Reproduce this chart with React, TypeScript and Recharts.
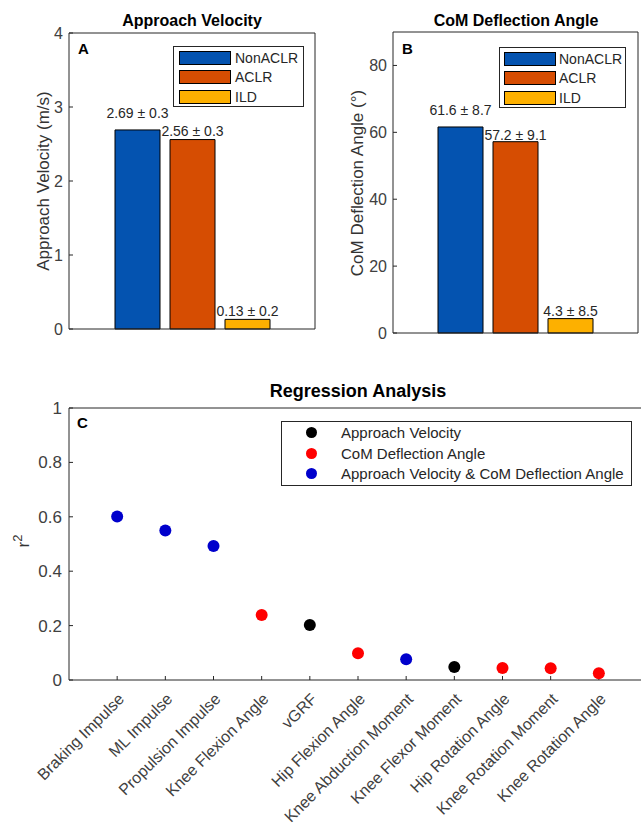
import React from "react";
import { BarChart, Bar, XAxis, YAxis, Legend, LabelList, ScatterChart, Scatter } from "recharts";

// groups shared by panels A and B
const GROUPS = ["NonACLR", "ACLR", "ILD"];
const GROUP_COLORS = ["#0453b0", "#d64d02", "#fdb000"];

// panel A: approach velocity (m/s)
const VELOCITY_MEAN = [2.69, 2.56, 0.13];
const VELOCITY_SD = [0.3, 0.3, 0.2];
const VELOCITY_TICKS = [0, 1, 2, 3, 4];

// panel B: CoM deflection angle (deg)
const ANGLE_MEAN = [61.6, 57.2, 4.3];
const ANGLE_SD = [8.7, 9.1, 8.5];
const ANGLE_TICKS = [0, 20, 40, 60, 80];

// panel C: regression r^2 per measure
const MEASURES = [
  "Braking Impulse",
  "ML Impulse",
  "Propulsion Impulse",
  "Knee Flexion Angle",
  "vGRF",
  "Hip Flexion Angle",
  "Knee Abduction Moment",
  "Knee Flexor Moment",
  "Hip Rotation Angle",
  "Knee Rotation Moment",
  "Knee Rotation Angle",
];
const R2 = [0.601, 0.55, 0.493, 0.239, 0.202, 0.098, 0.076, 0.048, 0.044, 0.043, 0.025];
const PREDICTOR = ["both", "both", "both", "com", "vel", "com", "both", "vel", "com", "com", "com"];
const PREDICTOR_KEYS = ["vel", "com", "both"];
const PREDICTOR_NAMES = ["Approach Velocity", "CoM Deflection Angle", "Approach Velocity & CoM Deflection Angle"];
const PREDICTOR_COLORS = ["#000000", "#ff0000", "#0000cc"];
const R2_TICKS = [0, 0.2, 0.4, 0.6, 0.8, 1];

const AXIS = { stroke: "#262626", strokeWidth: 1 };
const TICK = { fill: "#404040", fontSize: 16 };
const TEXT = "#262626";

function barRow(means: number[], sds: number[]) {
  const row: any = { name: "" };
  GROUPS.forEach((g, i) => {
    row[g] = means[i];
    row[g + "_label"] = `${means[i]} \u00b1 ${sds[i]}`;
  });
  return [row];
}

const velocityData = barRow(VELOCITY_MEAN, VELOCITY_SD);
const angleData = barRow(ANGLE_MEAN, ANGLE_SD);

const scatterData = PREDICTOR_KEYS.map((k) =>
  MEASURES.map((m, i) => ({ x: i + 1, y: R2[i], measure: m, key: PREDICTOR[i] })).filter((d) => d.key === k)
);
const X_TICKS = MEASURES.map((_, i) => i + 1);

// keep legend entries in series order
const ordered = (payload: any[], names: string[]) =>
  [...(payload || [])].sort((a, b) => names.indexOf(a.value) - names.indexOf(b.value));

const makeBarLegend = (width: number, padLeft: number, gap: number) => (props: any) => (
  <div
    style={{
      border: "1px solid #262626",
      background: "#fff",
      width,
      height: 61,
      boxSizing: "border-box",
      paddingLeft: padLeft,
      paddingTop: 1,
    }}
  >
    {ordered(props.payload, GROUPS).map((p: any) => (
      <div key={p.value} style={{ display: "flex", alignItems: "center", height: 19.5 }}>
        <span
          style={{
            width: 52,
            height: 14,
            boxSizing: "border-box",
            background: p.color,
            border: "1px solid #000",
          }}
        />
        <span style={{ marginLeft: gap, fontSize: 14, color: TEXT, lineHeight: "14px" }}>{p.value}</span>
      </div>
    ))}
  </div>
);

const ScatterLegend = (props: any) => (
  <div
    style={{
      border: "1px solid #262626",
      background: "#fff",
      width: 351,
      height: 65,
      boxSizing: "border-box",
    }}
  >
    {ordered(props.payload, PREDICTOR_NAMES).map((p: any) => (
      <div key={p.value} style={{ display: "flex", alignItems: "center", height: 20.7 }}>
        <span style={{ width: 11, height: 11, borderRadius: "50%", background: p.color, marginLeft: 24 }} />
        <span style={{ marginLeft: 24, fontSize: 15, color: TEXT, lineHeight: "15px" }}>{p.value}</span>
      </div>
    ))}
  </div>
);

const AngledTick = (props: any) => {
  const { x, y, payload } = props;
  const label = MEASURES[payload.value - 1];
  if (!label) return <g />;
  const ax = x + 8;
  return (
    <text x={ax} y={y} transform={`rotate(-45 ${ax} ${y})`} textAnchor="end" fontSize={16} fill="#404040">
      {label}
    </text>
  );
};

const valueLabel = (lift: number) => (p: any) => (
  <text x={p.x + p.width / 2} y={p.y - lift} textAnchor="middle" fontSize={14} fill={TEXT}>
    {p.value}
  </text>
);

function BarPanel(props: any) {
  const { data, domain, ticks, width, height, yWidth, top, right, legend, offsets } = props;
  return (
    <BarChart
      width={width}
      height={height}
      data={data}
      margin={{ top, right, bottom: 0, left: 0 }}
      barSize={45}
      barGap={10}
    >
      <XAxis dataKey="name" height={16} tick={false} tickLine={false} axisLine={AXIS} />
      <XAxis xAxisId="top" orientation="top" dataKey="name" height={1} tick={false} tickLine={false} axisLine={AXIS} />
      <YAxis
        type="number"
        domain={domain}
        ticks={ticks}
        interval={0}
        width={yWidth}
        tickSize={-4}
        tickMargin={10}
        tick={TICK}
        axisLine={AXIS}
        tickLine={AXIS}
      />
      <YAxis
        yAxisId="r"
        orientation="right"
        type="number"
        domain={domain}
        ticks={ticks}
        interval={0}
        width={1}
        tickSize={-4}
        tickFormatter={() => ""}
        axisLine={AXIS}
        tickLine={AXIS}
      />
      <Legend
        layout="vertical"
        align="center"
        verticalAlign="middle"
        wrapperStyle={{ left: legend.left, top: legend.top, width: legend.width }}
        content={makeBarLegend(legend.width, legend.padLeft, legend.gap)}
      />
      {GROUPS.map((g, i) => (
        <Bar
          key={g}
          dataKey={g}
          name={g}
          fill={GROUP_COLORS[i]}
          stroke="#000"
          strokeWidth={1}
          isAnimationActive={false}
        >
          <LabelList dataKey={`${g}_label`} content={valueLabel(offsets[i])} />
        </Bar>
      ))}
    </BarChart>
  );
}

const abs = (left: number, top: number): React.CSSProperties => ({ position: "absolute", left, top });

const title = (text: string, cx: number, top: number, size: number) => (
  <div
    style={{
      ...abs(cx, top),
      transform: "translateX(-50%)",
      fontWeight: "bold",
      fontSize: size,
      lineHeight: `${size}px`,
      whiteSpace: "nowrap",
      color: "#000",
    }}
  >
    {text}
  </div>
);

const letter = (text: string, left: number, top: number) => (
  <div style={{ ...abs(left, top), fontWeight: "bold", fontSize: 15, lineHeight: "15px", color: "#000" }}>{text}</div>
);

const yLabel = (content: React.ReactNode, cx: number, cy: number) => (
  <div
    style={{
      ...abs(cx, cy),
      transform: "translate(-50%, -50%) rotate(-90deg)",
      fontSize: 17,
      lineHeight: "17px",
      whiteSpace: "nowrap",
      color: "#333",
    }}
  >
    {content}
  </div>
);

export default function App() {
  return (
    <div
      style={{
        position: "absolute",
        left: 0,
        top: 0,
        width: 641,
        height: 826,
        overflow: "hidden",
        background: "#fff",
        fontFamily: '"Liberation Sans", Arial, sans-serif',
      }}
    >
      <div style={abs(0, 0)}>
        <BarPanel
          data={velocityData}
          domain={[0, 4]}
          ticks={VELOCITY_TICKS}
          width={320}
          height={345}
          yWidth={69}
          top={32}
          right={4}
          offsets={[12, 4, 3]}
          legend={{ left: 173, top: 46, width: 131, padLeft: 5, gap: 4 }}
        />
      </div>
      <div style={abs(320, 0)}>
        <BarPanel
          data={angleData}
          domain={[0, 90]}
          ticks={ANGLE_TICKS}
          width={321}
          height={349}
          yWidth={73}
          top={31}
          right={2}
          offsets={[12, 2, 3]}
          legend={{ left: 179, top: 47, width: 127, padLeft: 4, gap: 3 }}
        />
      </div>
      <div style={abs(0, 360)}>
        <ScatterChart width={680} height={466} margin={{ top: 47, right: 32, bottom: 0, left: 0 }}>
          <XAxis
            type="number"
            dataKey="x"
            domain={[0, 12]}
            ticks={X_TICKS}
            interval={0}
            height={146}
            tickSize={-4}
            tickMargin={24}
            tick={<AngledTick />}
            axisLine={AXIS}
            tickLine={AXIS}
          />
          <XAxis
            xAxisId="top"
            orientation="top"
            type="number"
            domain={[0, 12]}
            ticks={X_TICKS}
            interval={0}
            height={1}
            tickSize={-4}
            tickFormatter={() => ""}
            axisLine={AXIS}
            tickLine={AXIS}
          />
          <YAxis
            type="number"
            dataKey="y"
            domain={[0, 1]}
            ticks={R2_TICKS}
            interval={0}
            width={69}
            tickSize={-4}
            tickMargin={11}
            tick={{ ...TICK, fontSize: 17 }}
            axisLine={AXIS}
            tickLine={AXIS}
          />
          <YAxis
            yAxisId="r"
            orientation="right"
            type="number"
            domain={[0, 1]}
            ticks={R2_TICKS}
            interval={0}
            width={1}
            tickSize={-4}
            tickFormatter={() => ""}
            axisLine={AXIS}
            tickLine={AXIS}
          />
          <Legend
            layout="vertical"
            align="center"
            verticalAlign="middle"
            wrapperStyle={{ left: 281, top: 61, width: 351 }}
            content={ScatterLegend}
          />
          {PREDICTOR_KEYS.map((k, i) => (
            <Scatter
              key={k}
              name={PREDICTOR_NAMES[i]}
              data={scatterData[i]}
              fill={PREDICTOR_COLORS[i]}
              isAnimationActive={false}
              shape={(p: any) => <circle cx={p.cx} cy={p.cy} r={6} fill={PREDICTOR_COLORS[i]} />}
            />
          ))}
        </ScatterChart>
      </div>

      {title("Approach Velocity", 192, 13, 16)}
      {title("CoM Deflection Angle", 516, 13, 16)}
      {title("Regression Analysis", 358, 382, 18)}
      {letter("A", 78, 41)}
      {letter("B", 402, 41)}
      {letter("C", 77, 415)}
      {yLabel("Approach Velocity (m/s)", 43, 181)}
      {yLabel("CoM Deflection Angle (\u00b0)", 357, 183)}
      {yLabel(
        <span>
          r<sup style={{ fontSize: 13 }}>2</sup>
        </span>,
        20,
        541
      )}
    </div>
  );
}
